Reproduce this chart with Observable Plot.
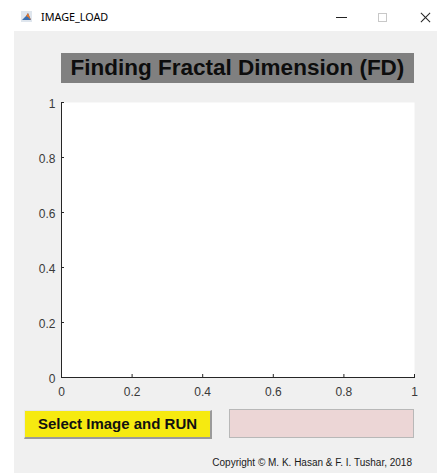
<!DOCTYPE html>
<html><head><meta charset="utf-8">
<script src="https://cdn.jsdelivr.net/npm/d3@7"></script>
<script src="https://cdn.jsdelivr.net/npm/@observablehq/plot@0.6"></script>
<style>
html,body{margin:0;padding:0}
body{width:437px;height:473px;background:#fff;position:relative;overflow:hidden;font-family:Arial,"Liberation Sans",sans-serif}
.abs{position:absolute;box-sizing:border-box}
#content{left:14px;top:31px;width:423px;height:442px;background:#f0f0f0}
#wintitle{left:41px;top:10px;font-family:"Segoe UI","Noto Sans","Liberation Sans",sans-serif;font-size:10.8px;color:#000;line-height:14px;white-space:nowrap}
#minbtn{left:336px;top:17px;width:11px;height:1px;background:#222}
#maxbtn{left:378px;top:13px;width:9px;height:9px;border:1px solid #c8c8c8}
.xl{left:419px;top:17px;width:13px;height:1px;background:#222}
#banner{left:61px;top:53px;width:353px;height:30px;background:#808080;color:#0d0d0d;font-weight:bold;font-size:22.5px;line-height:30px;text-align:center;white-space:nowrap}
#chart{left:14px;top:90px}
#runbtn{left:24px;top:410px;width:188px;height:29px;background:#f6ea10;border-style:solid;border-width:1px 2px 2px 1px;border-color:#e6e6e6 #9a9a9a #9a9a9a #e6e6e6;font-weight:bold;font-size:15px;line-height:26px;text-align:center;color:#111;white-space:nowrap}
#result{left:229px;top:409px;width:185px;height:29px;background:#ecd6d6;border:1px solid #b8b8b8}
#copy{right:25px;top:457px;font-size:10px;color:#1a1a1a;line-height:12px;white-space:nowrap}
</style>
</head>
<body>
<div class="abs" id="content"></div>
<svg class="abs" style="left:21px;top:11px" width="11" height="11" viewBox="0 0 11 11">
  <rect x="0" y="0" width="11" height="11" fill="#dfe6ee"/>
  <polygon points="1,9 5,5 7,2 10,9" fill="#3b6fb0"/>
  <polygon points="5,5 7,2 10,9 7,6" fill="#e7772a"/>
</svg>
<div class="abs" id="wintitle"></div>
<div class="abs" id="minbtn"></div>
<div class="abs" id="maxbtn"></div>
<div class="abs xl" style="transform:rotate(45deg)"></div>
<div class="abs xl" style="transform:rotate(-45deg)"></div>
<div class="abs" id="banner"></div>
<div class="abs" id="chart"></div>
<div class="abs" id="runbtn"></div>
<div class="abs" id="result"></div>
<div class="abs" id="copy"></div>
<script>
const windowTitle = "IMAGE_LOAD";
const bannerTitle = "Finding Fractal Dimension (FD)";
const buttonLabel = "Select Image and RUN";
const copyrightText = "Copyright © M. K. Hasan & F. I. Tushar, 2018";
const xDomain = [0, 1];
const yDomain = [0, 1];
const xTicks = [0, 0.2, 0.4, 0.6, 0.8, 1];
const yTicks = [0, 0.2, 0.4, 0.6, 0.8, 1];

document.getElementById("wintitle").textContent = windowTitle;
document.getElementById("banner").textContent = bannerTitle;
document.getElementById("runbtn").textContent = buttonLabel;
document.getElementById("copy").textContent = copyrightText;

const W = 423, H = 310, mL = 47, mR = 23, mT = 12, mB = 23;
const plotW = W - mL - mR, plotH = H - mT - mB, tickLen = 3;
const fmt = d => String(d);
const chart = Plot.plot({
  width: W,
  height: H,
  marginLeft: mL,
  marginRight: mR,
  marginTop: mT,
  marginBottom: mB,
  style: {fontFamily: "Arial, 'Liberation Sans', sans-serif", fontSize: "12px", color: "#3a3a3a", background: "transparent", overflow: "visible"},
  x: {domain: xDomain},
  y: {domain: yDomain},
  marks: [
    Plot.frame({fill: "white", stroke: null}),
    Plot.axisX(xTicks, {tickSize: 0, tickPadding: 10, tickFormat: fmt, label: null}),
    Plot.axisY(yTicks, {tickSize: 0, tickPadding: 6, tickFormat: fmt, label: null, dy: 2}),
    Plot.ruleX(xTicks, {x: d => d, insetTop: plotH - tickLen, stroke: "#262626"}),
    Plot.ruleY(yTicks, {y: d => d, insetRight: plotW - tickLen, stroke: "#262626"}),
    Plot.frame({anchor: "left", stroke: "#262626"}),
    Plot.frame({anchor: "bottom", stroke: "#262626"})
  ]
});
document.getElementById("chart").appendChild(chart);
</script>
</body></html>
